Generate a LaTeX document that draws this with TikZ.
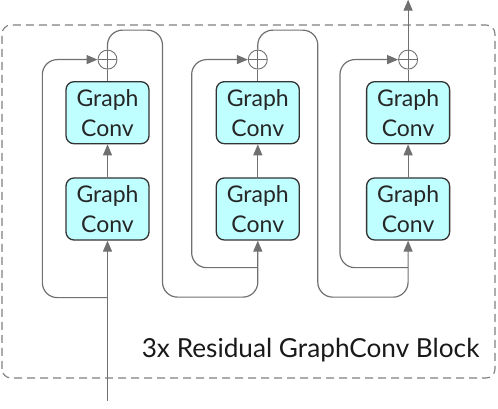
\documentclass[tikz,border=0pt]{standalone}
\usepackage{fontspec}
\setmainfont{Lato}
\usetikzlibrary{arrows.meta, positioning}
\definecolor{convfill}{RGB}{192,255,255}
\definecolor{linegray}{RGB}{112,112,112}
\definecolor{framegray}{RGB}{128,128,128}
\begin{document}
\begin{tikzpicture}[x=1pt, y=1pt,
    node distance=33pt and 66pt,
box/.style = {draw=black!80, line width=1.3pt, fill=convfill, rounded corners=8pt,
              minimum width=83pt, minimum height=62pt, align=center, inner sep=0pt,
              font=\fontsize{23}{30}\selectfont, text=black!85},
sum/.style = {circle, draw=linegray, line width=0.9pt, minimum size=19pt, inner sep=0pt,
              path picture={\draw[linegray, line width=0.9pt]
                  (path picture bounding box.north) -- (path picture bounding box.south)
                  (path picture bounding box.west) -- (path picture bounding box.east);}},
conn/.style = {draw=linegray, line width=1.2pt, rounded corners=15pt},
tip/.style = {-{Triangle[length=11pt, width=9pt]}},
frame/.style = {draw=framegray, line width=1.1pt, dash pattern=on 8pt off 5pt, rounded corners=9pt}
                        ]
\useasboundingbox (0,0) rectangle (498,409);
\draw[frame] (2,31) rectangle (495,384);
% column 1
\node (gA1) [box]             at (107.5,200) {Graph\\Conv};
\node (gB1) [box,above=of gA1]               {Graph\\Conv};
\node (plus1) [sum,above=11.5pt of gB1]      {};
% column 2
\node (gA2) [box,right=of gA1]               {Graph\\Conv};
\node (gB2) [box,above=of gA2]               {Graph\\Conv};
\node (plus2) [sum,above=11.5pt of gB2]      {};
% column 3
\node (gA3) [box,right=of gA2]               {Graph\\Conv};
\node (gB3) [box,above=of gA3]               {Graph\\Conv};
\node (plus3) [sum,above=11.5pt of gB3]      {};
%
\coordinate[below=160pt of gA1.south] (in);
\coordinate[above=50pt of plus3.north] (out);
\coordinate[below=57pt of gA1.south] (s1);
\coordinate[below=27pt of gA2.south] (s2);
\coordinate[below=27pt of gA3.south] (s3);
%
\draw[conn,tip] (in) -- (gA1);
\draw[conn,tip] (gA1) -- (gB1);
\draw[conn,tip] (gA2) -- (gB2);
\draw[conn,tip] (gA3) -- (gB3);
\draw[conn] (gB1) -- (plus1);
\draw[conn] (gB2) -- (plus2);
\draw[conn] (gB3) -- (plus3);
% skip connections
\draw[conn,tip] (s1) -| ([xshift=-23pt] gB1.west) |- (plus1);
\draw[conn,tip] (s2) -| ([xshift=-24pt] gB2.west) |- (plus2);
\draw[conn,tip] (s3) -| ([xshift=-26pt] gB3.west) |- (plus3);
% block to block
\draw[conn,tip] (plus1.north) |- ++(55,19.5) -- ++(0,-267) -| (gA2.south);
\draw[conn,tip] (plus2.north) |- ++(60,19.5) -- ++(0,-267) -| (gA3.south);
\draw[conn,tip] (plus3) -- (out);
%
\node (title) [anchor=base east, font=\fontsize{26.2}{30}\selectfont, text=black!90]
    at (483,51) {3x Residual GraphConv Block};
    \end{tikzpicture}
\end{document}
